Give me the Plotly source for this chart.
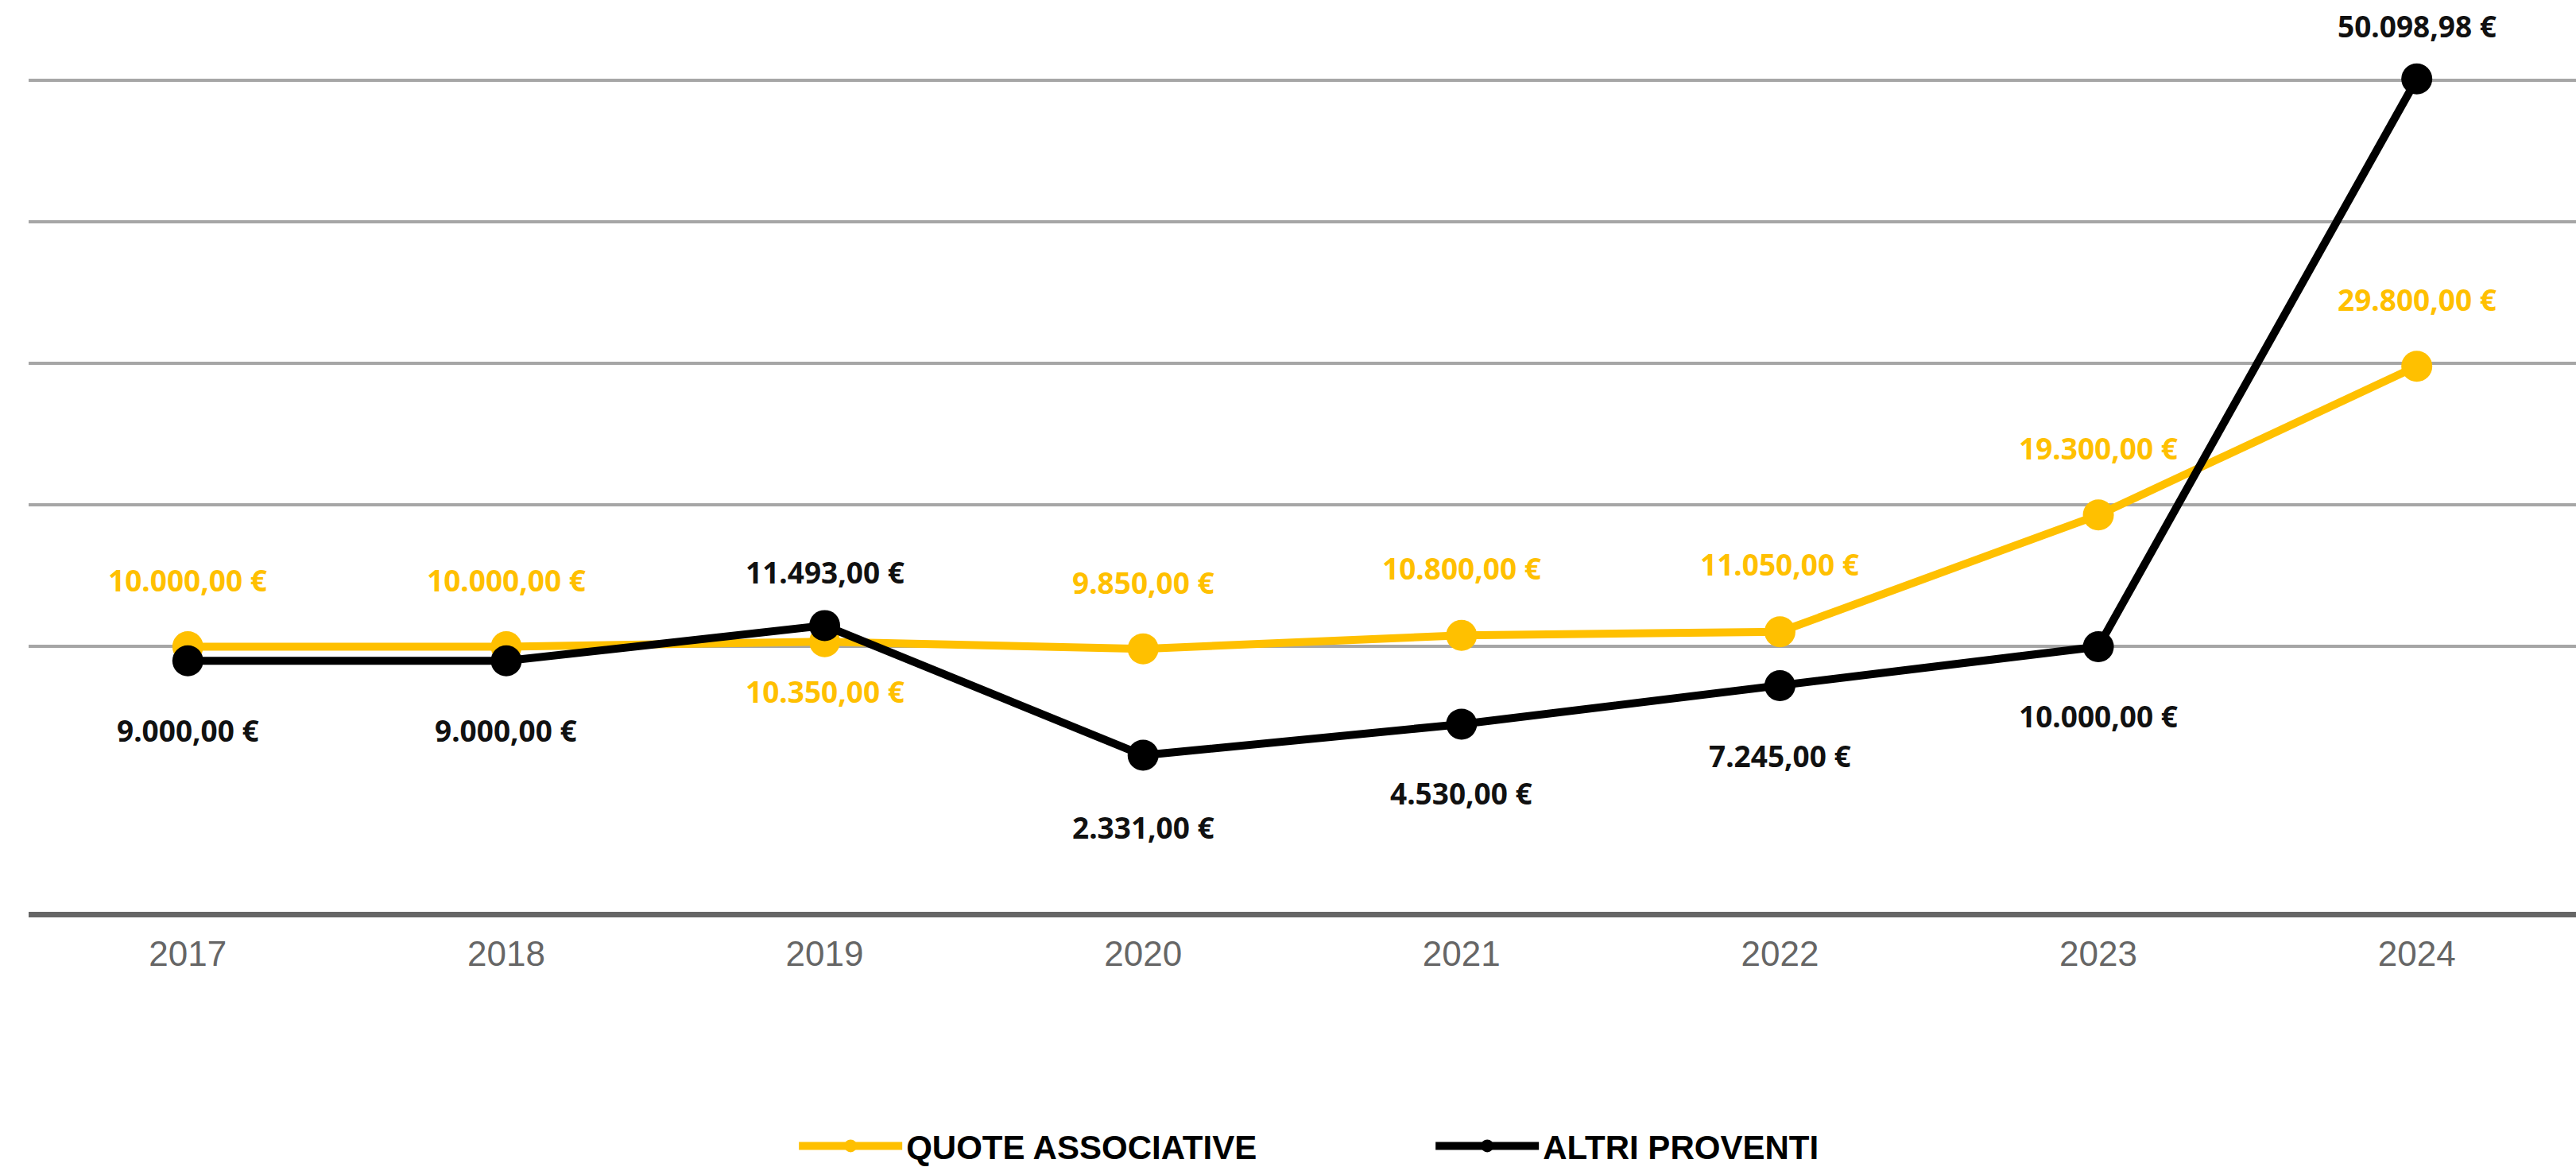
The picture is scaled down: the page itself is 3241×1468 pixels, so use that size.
import plotly.graph_objects as go

# ---- data ----
years = ["2017", "2018", "2019", "2020", "2021", "2022", "2023", "2024"]
quote_associative = [10000, 10000, 10350, 9850, 10800, 11050, 19300, 29800]
altri_proventi = [9000, 9000, 11493, 2331, 4530, 7245, 10000, 50098.98]
grid_values = [10000, 20000, 30000, 40000, 50000]
series_names = ["QUOTE ASSOCIATIVE", "ALTRI PROVENTI"]

# ---- style ----
YELLOW = "#FFC000"
BLACK = "#000000"
W, H = 3241, 1468
LEFT, BOTTOM_PX = 36, 1147
Y_TOP, Y_BOTTOM = 55671, -8725

# label placement (pixels; + above, - below)
quote_label_shift = [84, 84, -62, 84, 85, 85, 84, 84]
altri_label_shift = [-87, -87, 67, -90, -87, -88, -87, 67]


def eur(v):
    s = f"{v:,.2f}".replace(",", "X").replace(".", ",").replace("X", ".")
    return s + " €"


fig = go.Figure()
for name, vals, color in [
    (series_names[0], quote_associative, YELLOW),
    (series_names[1], altri_proventi, BLACK),
]:
    fig.add_trace(go.Scatter(
        x=years, y=vals, name=name, mode="lines+markers",
        line=dict(color=color, width=10),
        marker=dict(color=color, size=39),
        cliponaxis=False,
    ))

annotations = []
for vals, shifts, color in [
    (quote_associative, quote_label_shift, YELLOW),
    (altri_proventi, altri_label_shift, "#111111"),
]:
    for i, (v, s) in enumerate(zip(vals, shifts)):
        annotations.append(dict(
            x=i, y=v, xref="x", yref="y", text=eur(v), showarrow=False,
            yshift=s, bgcolor="white",
            font=dict(family="Noto Sans", size=37, color=color, weight="bold"),
        ))

fig.update_layout(
    width=W, height=H,
    margin=dict(l=LEFT, r=0, t=0, b=H - BOTTOM_PX),
    plot_bgcolor="white", paper_bgcolor="white",
    annotations=annotations,
    showlegend=True,
    legend=dict(
        orientation="h", xref="container", yref="container",
        x=0.3086, xanchor="left", y=0.018, yanchor="middle",
        font=dict(family="Liberation Sans", size=42, color="#000000", weight="bold"),
        itemwidth=130, entrywidth=656, entrywidthmode="pixels",
        bgcolor="rgba(0,0,0,0)",
    ),
    xaxis=dict(
        type="category", range=[-0.5, 7.5],
        showgrid=False, zeroline=False,
        showline=True, linecolor="#666666", linewidth=7,
        ticks="", ticklabelstandoff=8,
        tickfont=dict(family="Liberation Sans", size=44, color="#666666"),
    ),
    yaxis=dict(
        range=[Y_BOTTOM, Y_TOP], tickvals=grid_values,
        showticklabels=False, showgrid=True,
        gridcolor="#a6a6a6", gridwidth=4, zeroline=False, showline=False,
    ),
)

fig.write_html(
    "out.html",
    config={"displayModeBar": False},
    post_script="document.body.style.margin='0';document.body.style.overflow='hidden';",
)
